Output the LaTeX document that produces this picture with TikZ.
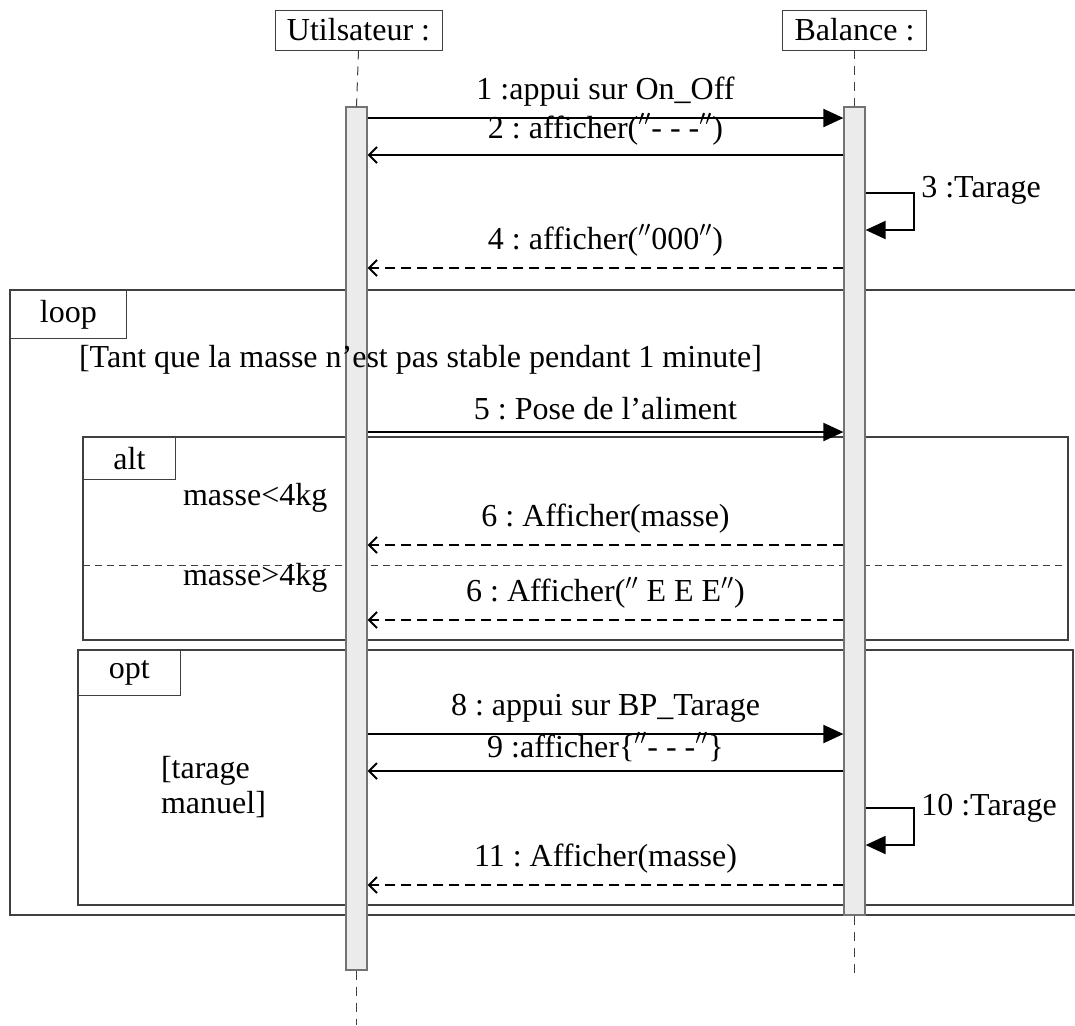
\documentclass[tikz,border=0pt]{standalone}
\usepackage{fontspec}
\setmainfont{Liberation Serif}
\usetikzlibrary{arrows.meta}

\newcommand{\dq}{\ensuremath{''}}

\tikzset{
  obj/.style={draw=black!75, fill=white, inner xsep=6pt, minimum height=20pt},
  lifeline/.style={black!75, line width=0.5pt, dash pattern=on 4.5pt off 3.5pt},
  actbar/.style={draw=black!55, fill=black!8, line width=0.6pt, minimum width=10.5pt, inner sep=0pt},
  frame/.style={draw=black!75, line width=0.6pt},
  tab/.style={draw=black!75, anchor=north west, inner sep=0pt},
  call/.style={line width=1pt, -{Triangle[length=10pt,width=9pt]}},
  reply/.style={line width=1pt, -{Straight Barb[length=4pt,width=8pt]}},
  ret/.style={reply, dash pattern=on 5pt off 3pt},
  lbl/.style={midway, above=2pt}
}

\begin{document}
\begin{tikzpicture}[x=0.5pt, y=-0.5pt, font=\fontsize{16}{17.5}\selectfont\frenchspacing]
  \clip (0,0) rectangle (1075,1025);
  % Frames
  \draw[frame] (10,290) rectangle (1090,915);
  \node[tab, minimum width=58pt, minimum height=24pt] (looptab) at (10,290) {loop};
  \draw[frame] (83,437) rectangle (1068,640);
  \node[tab, minimum width=46pt, minimum height=21pt] (alttab) at (83,437) {alt};
  \draw[frame, line width=0.5pt, dash pattern=on 3.5pt off 2.5pt] (83,565) -- (1068,565);
  \node[anchor=west] (lt4) at (176,498) {masse<4kg};
  \node[anchor=west] (gt4) at (176,578) {masse>4kg};
  \draw[frame] (78,650) rectangle (1073,905);
  \node[tab, minimum width=51pt, minimum height=22.5pt] (opttab) at (78,650) {opt};
  \node[anchor=west, align=left] (manuel) at (154,787) {[tarage\\manuel]};
  % Objects and lifelines
  \node[obj] (user) at (358.5,30) {Utilsateur :};
  \node[obj] (bal) at (854.5,30) {Balance :};
  \node[actbar, minimum height=431.5pt] (ua) at (356.5,538.5) {};
  \node[actbar, minimum height=404pt] (ba) at (854.5,511) {};
  \coordinate (uend) at (356.5,1025);
  \coordinate (bend) at (854.5,975);
  \draw[lifeline] (user.south) -- (ua.north);
  \draw[lifeline] (ua.south) -- (uend);
  \draw[lifeline] (bal.south) -- (ba.north);
  \draw[lifeline] (ba.south) -- (bend);
  % Guard of the loop, over the bar
  \node[anchor=west] (guard) at (72,360) {[Tant que la masse n’est pas stable pendant 1 minute]};
  % Message rows
  \foreach \n/\y in {m1/118, m2/155, m3a/193, m3b/230, m4/268, m5/432, m6/545,
      m7/620, m8/734, m9/771, m10a/808, m10b/845, m11/885}
    \coordinate (\n) at (0,\y);
  % Messages
  \draw[call] (ua.east |- m1) -- node[lbl] {1 :appui sur On\_Off} (ba.west |- m1);
  \draw[reply] (ba.west |- m2) -- node[lbl, above=-1pt] {2 : afficher(\dq- - -\dq)} (ua.east |- m2);
  \draw[call] (ba.east |- m3a) -- ++(48,0) node[right, yshift=1.5pt] {3 :Tarage} |- (ba.east |- m3b);
  \draw[ret] (ba.west |- m4) -- node[lbl] {4 : afficher(\dq000\dq)} (ua.east |- m4);
  \draw[call] (ua.east |- m5) -- node[lbl] {5 : Pose de l’aliment} (ba.west |- m5);
  \draw[ret] (ba.west |- m6) -- node[lbl] {6 : Afficher(masse)} (ua.east |- m6);
  \draw[ret] (ba.west |- m7) -- node[lbl] {6 : Afficher(\dq{} E E E\dq)} (ua.east |- m7);
  \draw[call] (ua.east |- m8) -- node[lbl] {8 : appui sur BP\_Tarage} (ba.west |- m8);
  \draw[reply] (ba.west |- m9) -- node[lbl, above=-1pt] {9 :afficher\{\dq- - -\dq\}} (ua.east |- m9);
  \draw[call] (ba.east |- m10a) -- ++(48,0) node[right] {10 :Tarage} |- (ba.east |- m10b);
  \draw[ret] (ba.west |- m11) -- node[lbl] {11 : Afficher(masse)} (ua.east |- m11);
\end{tikzpicture}
\end{document}
